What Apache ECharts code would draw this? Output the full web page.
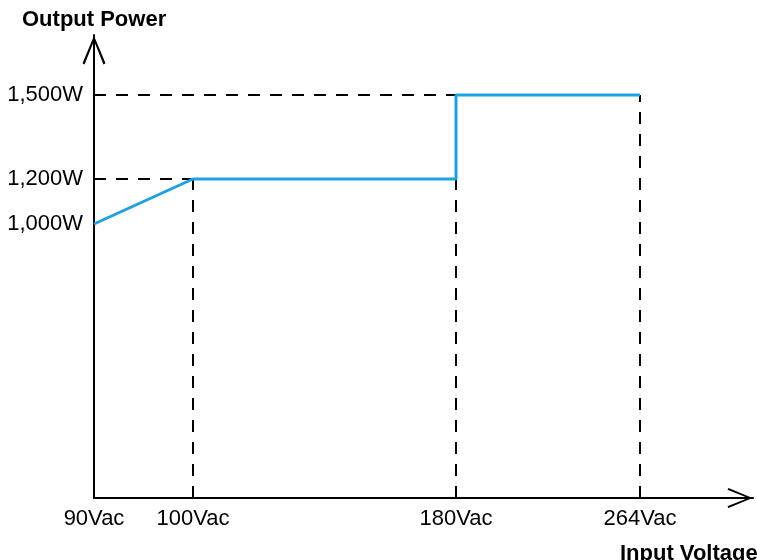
<!DOCTYPE html>
<html>
<head>
<meta charset="utf-8">
<script src="https://cdn.jsdelivr.net/npm/echarts@6/dist/echarts.min.js"></script>
<style>html,body{margin:0;padding:0;background:#fff;}#c{width:757px;height:560px;}</style>
</head>
<body>
<div id="c"></div>
<script>
// ---- data ----
var voltages = [90, 100, 180, 180, 264];          // Vac
var powers   = [1000, 1200, 1200, 1500, 1500];    // W
var xTicks = [90, 100, 180, 264];
var xTickLabels = ['90Vac', '100Vac', '180Vac', '264Vac'];
var yTicks = [1000, 1200, 1500];
var yTickLabels = ['1,000W', '1,200W', '1,500W'];

// ---- schematic (not-to-scale) axis scales: value -> axis unit ----
var xScaleStops = [[90, 0], [100, 0.99], [180, 3.62], [264, 5.46]];
var yScaleStops = [[1000, 2.74], [1200, 3.19], [1500, 4.03]];
var X_MAX = 6.59, Y_MAX = 4.63;

function piecewise(stops, v) {
  for (var i = 0; i < stops.length - 1; i++) {
    var a = stops[i], b = stops[i + 1];
    if (v <= b[0] || i === stops.length - 2) {
      return a[1] + (v - a[0]) * (b[1] - a[1]) / (b[0] - a[0]);
    }
  }
}
function tx(v) { return piecewise(xScaleStops, v); }
function ty(v) { return piecewise(yScaleStops, v); }

var lineData = voltages.map(function (v, i) { return [tx(v), ty(powers[i])]; });

// dashed guide lines (from data values)
var guides = [
  [[tx(xTicks[0]), ty(1500)], [tx(264), ty(1500)]],
  [[tx(xTicks[0]), ty(1200)], [tx(100), ty(1200)]],
  [[tx(100), 0], [tx(100), ty(1200)]],
  [[tx(180), 0], [tx(180), ty(1200)]],
  [[tx(264), 0], [tx(264), ty(1500)]]
];

function labelFor(ticks, labels, fn) {
  return function (val) {
    for (var i = 0; i < ticks.length; i++) {
      if (Math.abs(fn(ticks[i]) - val) < 1e-6) return labels[i];
    }
    return '';
  };
}

var arrowPath = 'path://M10,0 L20,24 L18.2,25 L10,4.5 L1.8,25 L0,24 Z';
var FONT = 'Liberation Sans, Arial, sans-serif';

var chart = echarts.init(document.getElementById('c'));
chart.setOption({
  animation: false,
  backgroundColor: '#fff',
  grid: { left: 94, right: 4, top: 35, bottom: 62, containLabel: false },
  xAxis: {
    type: 'value', min: 0, max: X_MAX,
    axisLine: { show: true, lineStyle: { color: '#000', width: 2 },
      symbol: ['none', arrowPath], symbolSize: [20, 26], symbolOffset: [0, -13] },
    axisTick: { show: false },
    splitLine: { show: false },
    axisLabel: {
      customValues: xTicks.map(tx),
      formatter: labelFor(xTicks, xTickLabels, tx),
      color: '#000', fontSize: 22, fontFamily: FONT, margin: 10
    }
  },
  yAxis: {
    type: 'value', min: 0, max: Y_MAX,
    axisLine: { show: true, lineStyle: { color: '#000', width: 2 },
      symbol: ['none', arrowPath], symbolSize: [23, 30], symbolOffset: [0, -15] },
    axisTick: { show: false },
    splitLine: { show: false },
    axisLabel: {
      customValues: yTicks.map(ty),
      formatter: labelFor(yTicks, yTickLabels, ty),
      color: '#000', fontSize: 22, fontFamily: FONT, margin: 11
    }
  },
  graphic: [
    { type: 'text', left: 22, top: 9, style: { text: 'Output Power', fontSize: 22, fontWeight: 'bold', fontFamily: FONT, fill: '#000' } },
    { type: 'text', left: 620, top: 543, style: { text: 'Input Voltage', fontSize: 22, fontWeight: 'bold', fontFamily: FONT, fill: '#000' } }
  ],
  series: [
    {
      type: 'line',
      data: lineData,
      showSymbol: false,
      symbol: 'none',
      z: 5,
      lineStyle: { color: '#1aa2e3', width: 3 },
      markLine: {
        silent: true,
        symbol: ['none', 'none'],
        label: { show: false },
        z: 2,
        lineStyle: { color: '#000', width: 2, type: [12, 10] },
        data: guides.map(function (g) { return [{ coord: g[0] }, { coord: g[1] }]; })
      }
    }
  ]
});
</script>
</body>
</html>
